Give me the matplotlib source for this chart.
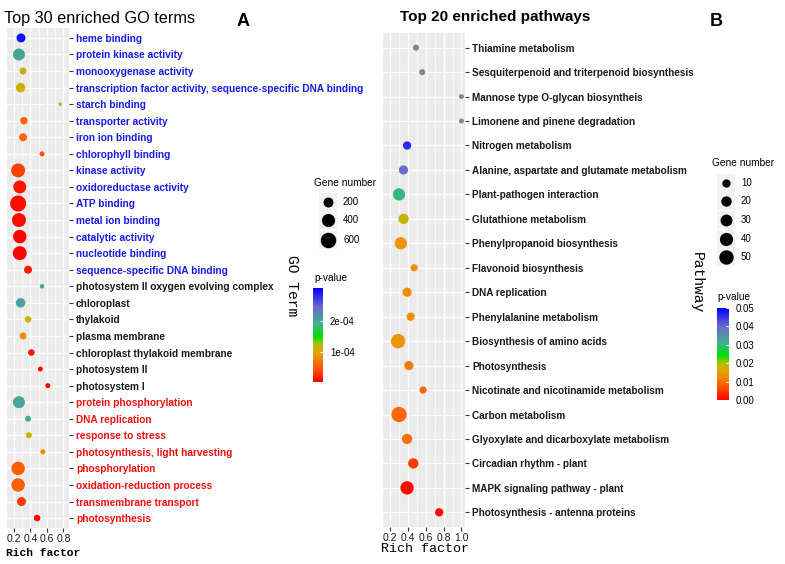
import matplotlib
matplotlib.use('Agg')
import matplotlib.pyplot as plt
import numpy as np
from matplotlib.colors import LinearSegmentedColormap, Normalize
from matplotlib.cm import ScalarMappable
from matplotlib.ticker import MultipleLocator

# ---- data: panel A (GO terms) ----
go_terms = ['heme binding', 'protein kinase activity', 'monooxygenase activity',
            'transcription factor activity, sequence-specific DNA binding',
            'starch binding', 'transporter activity', 'iron ion binding',
            'chlorophyll binding', 'kinase activity', 'oxidoreductase activity',
            'ATP binding', 'metal ion binding', 'catalytic activity',
            'nucleotide binding', 'sequence-specific DNA binding',
            'photosystem II oxygen evolving complex', 'chloroplast', 'thylakoid',
            'plasma membrane', 'chloroplast thylakoid membrane', 'photosystem II',
            'photosystem I', 'protein phosphorylation', 'DNA replication',
            'response to stress', 'photosynthesis, light harvesting',
            'phosphorylation', 'oxidation-reduction process',
            'transmembrane transport', 'photosynthesis']
go_class = ['MF', 'MF', 'MF', 'MF', 'MF', 'MF', 'MF', 'MF', 'MF', 'MF', 'MF', 'MF',
            'MF', 'MF', 'MF', 'CC', 'CC', 'CC', 'CC', 'CC', 'CC', 'CC', 'BP', 'BP',
            'BP', 'BP', 'BP', 'BP', 'BP', 'BP']
go_rich = [0.285, 0.26, 0.31, 0.28, 0.76, 0.32, 0.31, 0.54, 0.25, 0.27,
           0.25, 0.26, 0.27, 0.27, 0.37, 0.54, 0.28, 0.37, 0.31, 0.41,
           0.52, 0.61, 0.26, 0.37, 0.38, 0.55, 0.25, 0.25, 0.29, 0.48]
go_count = [150, 320, 72, 175, 4, 90, 108, 22, 470, 392,
            650, 470, 430, 470, 108, 14, 175, 59, 72, 59,
            22, 22, 320, 44, 44, 22, 430, 430, 150, 59]
go_p = [3.0e-4, 2.0e-4, 1.1e-4, 1.1e-4, 1.1e-4, 0.55e-4, 0.55e-4, 0.4e-4, 0.35e-4, 0.1e-4,
        0.05e-4, 0.05e-4, 0.02e-4, 0.02e-4, 0.15e-4, 2.0e-4, 2.0e-4, 1.1e-4, 0.8e-4, 0.1e-4,
        0.05e-4, 0.02e-4, 2.0e-4, 1.9e-4, 1.1e-4, 0.8e-4, 0.5e-4, 0.5e-4, 0.3e-4, 0.05e-4]
go_size_breaks = [200, 400, 600]
go_p_ticks = [1e-4, 2e-4]
go_p_labels = ['1e-04', '2e-04']
go_x_ticks = [0.2, 0.4, 0.6, 0.8]

# ---- data: panel B (pathways) ----
pw_terms = ['Thiamine metabolism', 'Sesquiterpenoid and triterpenoid biosynthesis',
            'Mannose type O-glycan biosyntheis', 'Limonene and pinene degradation',
            'Nitrogen metabolism', 'Alanine, aspartate and glutamate metabolism',
            'Plant-pathogen interaction', 'Glutathione metabolism',
            'Phenylpropanoid biosynthesis', 'Flavonoid biosynthesis', 'DNA replication',
            'Phenylalanine metabolism', 'Biosynthesis of amino acids', 'Photosynthesis',
            'Nicotinate and nicotinamide metabolism', 'Carbon metabolism',
            'Glyoxylate and dicarboxylate metabolism', 'Circadian rhythm - plant',
            'MAPK signaling pathway - plant', 'Photosynthesis - antenna proteins']
pw_rich = [0.49, 0.56, 1.0, 1.0, 0.39, 0.35, 0.30, 0.35, 0.32, 0.47,
           0.39, 0.43, 0.29, 0.41, 0.57, 0.30, 0.39, 0.46, 0.39, 0.75]
pw_count = [3, 3, 1, 1, 10, 14, 33, 20, 33, 6,
            14, 10, 50, 14, 6, 59, 20, 20, 41, 10]
pw_p = [0.08, 0.07, 0.2, 0.2, 0.046, 0.04, 0.03, 0.018, 0.014, 0.013,
        0.013, 0.013, 0.014, 0.011, 0.009, 0.009, 0.010, 0.005, 0.001, 0.001]
pw_size_breaks = [10, 20, 30, 40, 50]
pw_p_ticks = [0.0, 0.01, 0.02, 0.03, 0.04, 0.05]
pw_p_labels = ['0.00', '0.01', '0.02', '0.03', '0.04', '0.05']
pw_x_ticks = [0.2, 0.4, 0.6, 0.8, 1.0]

W, H = 785, 564
fig = plt.figure(figsize=(W / 100, H / 100), dpi=100)

cmap = LinearSegmentedColormap.from_list('pv', [
    (0.00, '#FF0000'), (0.15, '#FF5A00'), (0.30, '#E8A000'), (0.40, '#B0C000'),
    (0.48, '#00E000'), (0.62, '#40B090'), (0.80, '#6A6ACC'), (1.00, '#0000FF')])
label_colors = {'MF': '#1A1AE6', 'CC': '#1A1A1A', 'BP': '#F01010'}
sans = 'Liberation Sans'
mono = 'Liberation Mono'


def px_box(x0, y0, x1, y1):
    # pixel box (top-left origin) -> figure fraction
    return [x0 / W, (H - y1) / H, (x1 - x0) / W, (y1 - y0) / H]


def size_a(n):
    d = 2.5 + 0.53 * np.sqrt(np.asarray(n, dtype=float))
    return (d * 0.72) ** 2


def size_b(n):
    d = 3.4 + 1.55 * np.sqrt(np.asarray(n, dtype=float))
    return (d * 0.72) ** 2


def style_panel(ax, xlim, nrows, xticks):
    ax.set_facecolor('#EBEBEB')
    ax.set_xlim(*xlim)
    ax.set_ylim(nrows - 0.4, -0.6)
    ax.set_xticks(xticks)
    ax.set_xticklabels(['%.1f' % v for v in xticks], family=sans, fontsize=7.5,
                       color='#1A1A1A')
    ax.xaxis.set_minor_locator(MultipleLocator(0.1))
    ax.grid(which='major', color='white', linewidth=1.0)
    ax.grid(which='minor', axis='x', color='white', linewidth=0.5)
    ax.set_axisbelow(True)
    for s in ax.spines.values():
        s.set_visible(False)
    ax.yaxis.tick_right()
    ax.tick_params(axis='y', which='both', length=3, width=0.8, color='#333333', pad=2)
    ax.tick_params(axis='x', which='major', length=3, width=0.8, color='#333333', pad=1)
    ax.tick_params(axis='x', which='minor', length=0)


# ---- panel A ----
axA = fig.add_axes(px_box(7, 28, 69, 528))
normA = Normalize(0, 3.1e-4)
yA = np.arange(len(go_terms))
axA.scatter(go_rich, yA, s=size_a(go_count), c=go_p, cmap=cmap, norm=normA,
            linewidths=0, zorder=3)
axA.set_yticks(yA)
axA.set_yticklabels(go_terms)
style_panel(axA, (0.115, 0.867), len(go_terms), go_x_ticks)
for t, c in zip(axA.get_yticklabels(), go_class):
    t.set_color(label_colors[c])
    t.set_fontsize(7.25)
    t.set_fontweight('bold')
    t.set_family(sans)

# ---- panel B ----
axB = fig.add_axes(px_box(383, 33, 465, 527))
normB = Normalize(0, 0.05)
yB = np.arange(len(pw_terms))
pw_colors = [cmap(normB(p)) if p <= 0.05 else '#858585' for p in pw_p]
axB.scatter(pw_rich, yB, s=size_b(pw_count), c=pw_colors, linewidths=0, zorder=3)
axB.set_yticks(yB)
axB.set_yticklabels(pw_terms)
style_panel(axB, (0.12, 1.04), len(pw_terms), pw_x_ticks)
for t in axB.get_yticklabels():
    t.set_color('#1A1A1A')
    t.set_fontsize(7.2)
    t.set_fontweight('bold')
    t.set_family(sans)

# ---- titles and axis titles ----
fig.text(4 / W, 1 - 18 / H, 'Top 30 enriched GO terms', fontsize=11.7, family=sans,
         va='center', ha='left')
fig.text(243 / W, 1 - 22 / H, 'A', fontsize=13, family=sans, fontweight='bold',
         va='center', ha='center')
fig.text(495 / W, 1 - 17 / H, 'Top 20 enriched pathways', fontsize=11, family=sans,
         fontweight='bold', va='center', ha='center')
fig.text(716 / W, 1 - 22 / H, 'B', fontsize=13, family=sans, fontweight='bold',
         va='center', ha='center')
fig.text(43 / W, 1 - 553 / H, 'Rich factor', fontsize=8.1, family=mono,
         fontweight='bold', va='center', ha='center')
fig.text(425 / W, 1 - 549 / H, 'Rich factor', fontsize=9.6, family=mono,
         va='center', ha='center')
fig.text(292 / W, 1 - 286 / H, 'GO Term', fontsize=10.5, family=mono, rotation=270,
         va='center', ha='center')
fig.text(697 / W, 1 - 283 / H, 'Pathway', fontsize=10.5, family=mono, rotation=270,
         va='center', ha='center')

# ---- size legends ----
ov = fig.add_axes([0, 0, 1, 1])
ov.set_xlim(0, W)
ov.set_ylim(H, 0)
ov.axis('off')


def size_legend(x, y_title, ys, breaks, size_fn):
    ov.text(x - 14, y_title, 'Gene number', fontsize=7.3, family=sans, va='center')
    for yy, b in zip(ys, breaks):
        ov.add_patch(plt.Rectangle((x - 9, yy - 9), 18, 18, color='#F2F2F2', lw=0))
        ov.scatter([x], [yy], s=size_fn([b]), color='black', linewidths=0)
        ov.text(x + 15, yy, str(b), fontsize=7, family=sans, va='center')


size_legend(328, 183, [202, 220, 240], go_size_breaks, size_a)
size_legend(726, 163, [183, 201, 220, 239, 257], pw_size_breaks, size_b)

# ---- colour bars ----


def pbar(box, norm, ticks, labels, y_title, x_title):
    cax = fig.add_axes(px_box(*box))
    cb = fig.colorbar(ScalarMappable(norm=norm, cmap=cmap), cax=cax)
    cb.outline.set_visible(False)
    cb.set_ticks(ticks)
    cb.set_ticklabels(labels)
    cax.tick_params(color='white', length=2.5, width=0.8, direction='in', pad=5,
                    labelsize=7)
    for t in cax.get_yticklabels():
        t.set_family(sans)
    ov.text(x_title, y_title, 'p-value', fontsize=7.3, family=sans, va='center')


pbar((313, 288, 323, 382), normA, go_p_ticks, go_p_labels, 278, 314)
pbar((717, 308, 729, 400), normB, pw_p_ticks, pw_p_labels, 297, 717)

fig.savefig('out.png', dpi=100)
